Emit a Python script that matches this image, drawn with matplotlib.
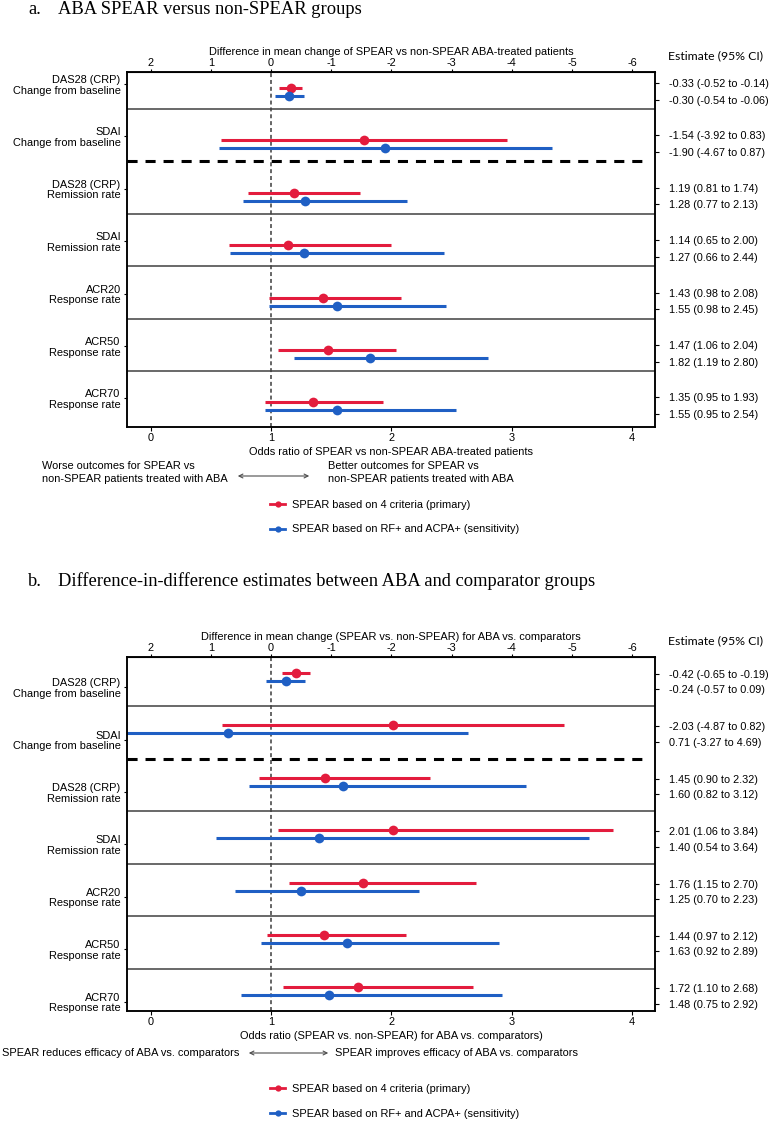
import numpy as np
import matplotlib.pyplot as plt
from matplotlib.lines import Line2D
from matplotlib.patches import FancyArrowPatch

plt.rcParams["font.family"] = ["Liberation Sans", "DejaVu Sans"]
plt.rcParams["axes.unicode_minus"] = False

# %%
# Data
outcomes = [
    "DAS28 (CRP)\nChange from baseline",
    "SDAI\nChange from baseline",
    "DAS28 (CRP)\nRemission rate",
    "SDAI\nRemission rate",
    "ACR20\nResponse rate",
    "ACR50\nResponse rate",
    "ACR70\nResponse rate",
]
is_change = [True, True, False, False, False, False, False]

# a. SPEAR vs non-SPEAR, ABA-treated
a_prim_est = [-0.33, -1.54, 1.19, 1.14, 1.43, 1.47, 1.35]
a_prim_lo = [-0.52, -3.92, 0.81, 0.65, 0.98, 1.06, 0.95]
a_prim_hi = [-0.14, 0.83, 1.74, 2.00, 2.08, 2.04, 1.93]
a_sens_est = [-0.30, -1.90, 1.28, 1.27, 1.55, 1.82, 1.55]
a_sens_lo = [-0.54, -4.67, 0.77, 0.66, 0.98, 1.19, 0.95]
a_sens_hi = [-0.06, 0.87, 2.13, 2.44, 2.45, 2.80, 2.54]

# b. difference-in-difference, ABA vs comparators
b_prim_est = [-0.42, -2.03, 1.45, 2.01, 1.76, 1.44, 1.72]
b_prim_lo = [-0.65, -4.87, 0.90, 1.06, 1.15, 0.97, 1.10]
b_prim_hi = [-0.19, 0.82, 2.32, 3.84, 2.70, 2.12, 2.68]
b_sens_est = [-0.24, 0.71, 1.60, 1.40, 1.25, 1.63, 1.48]
b_sens_lo = [-0.57, -3.27, 0.82, 0.54, 0.70, 0.92, 0.75]
b_sens_hi = [0.09, 4.69, 3.12, 3.64, 2.23, 2.89, 2.92]

or_ticks = [0, 1, 2, 3, 4]
diff_ticks = [2, 1, 0, -1, -2, -3, -4, -5, -6]

labels_series = ["SPEAR based on 4 criteria (primary)",
                 "SPEAR based on RF+ and ACPA+ (sensitivity)"]

RED = "#e31c3d"
BLUE = "#1f5fc4"
FS = 7.9
W, H = 769, 1123


# %%
# Helpers
def diff_to_or(d):
    # mean-change scale on top axis -> odds-ratio scale on bottom axis
    return 1 - np.asarray(d) / 2


def or_to_diff(x):
    return 2 * (1 - np.asarray(x))


def to_plot(vals, i):
    return float(diff_to_or(vals[i])) if is_change[i] else vals[i]


def fx(px):
    return px / W


def fy(py):
    return 1 - py / H


def draw_panel(top_px, bot_px, prim, sens, top_label, bot_label,
               ylim, sep_off, lab_off, est_off):
    ax = fig.add_axes([fx(127), fy(bot_px), fx(655) - fx(127),
                       fy(top_px) - fy(bot_px)])
    rows = np.arange(len(outcomes))
    dy = 0.153
    est_labels = []
    est_pos = []
    for series, off, col in [(prim, 0, RED), (sens, dy, BLUE)]:
        est, lo, hi = series
        for i in rows:
            e = to_plot(est, i)
            a = to_plot(lo, i)
            b = to_plot(hi, i)
            a, b = min(a, b), max(a, b)
            ax.plot([a, b], [i + off, i + off], color=col, lw=2.2,
                    solid_capstyle="butt")
            ax.plot(e, i + off, "o", color=col, ms=7, mec="none")
    for i in rows:
        for series, off in [(prim, est_off[0]), (sens, est_off[1])]:
            est, lo, hi = series
            est_labels.append(f"{est[i]:.2f} ({lo[i]:.2f} to {hi[i]:.2f})")
            est_pos.append(i + off)

    # row separators (dashed one splits change outcomes from rates)
    for i in rows[:-1]:
        if i == 1:
            ax.axhline(i + sep_off, xmin=0, xmax=0.985, color="black",
                       lw=2.2, ls=(0, (3.3, 2.6)))
        else:
            ax.axhline(i + sep_off, color="0.25", lw=1.1)

    ax.axvline(1, color="0.35", lw=1.3, ls=(0, (2.2, 1.6)), zorder=0)

    ax.set_xlim(-0.197, 4.19)
    ax.set_ylim(ylim)
    ax.set_xticks(or_ticks)
    ax.set_yticks(rows + lab_off)
    ax.set_yticklabels(outcomes, fontsize=FS)
    for t in ax.get_yticklabels():
        t.set_linespacing(1.08)
    ax.tick_params(axis="x", labelsize=FS, length=3, pad=1.5)
    ax.tick_params(axis="y", length=2.5, pad=2)
    ax.set_xlabel(bot_label, fontsize=FS, labelpad=3)
    for s in ax.spines.values():
        s.set_linewidth(1.1)

    top = ax.secondary_xaxis("top", functions=(or_to_diff, diff_to_or))
    top.set_xticks(diff_ticks)
    top.tick_params(labelsize=FS, length=2.5, pad=0.3)
    top.set_xlabel(top_label, fontsize=FS, labelpad=2)

    right = ax.twinx()
    right.set_ylim(ylim)
    right.set_yticks(est_pos)
    right.set_yticklabels(est_labels, fontsize=7.8)
    right.tick_params(axis="y", length=3, pad=6.8)
    for s in right.spines.values():
        s.set_linewidth(1.1)

    fig.text(fx(668), fy(top_px - 16), "Estimate (95% CI)", fontsize=8.8,
             family=["Lato", "DejaVu Sans"], va="center", ha="left")
    return ax


# %%
# Figure
fig = plt.figure(figsize=(W / 100, H / 100), dpi=100)

title_font = ["Liberation Serif", "DejaVu Serif"]
fig.text(fx(28), fy(10), "a.", fontsize=13.3, family=title_font, va="center")
fig.text(fx(58), fy(10), "ABA SPEAR versus non-SPEAR groups", fontsize=13.3,
         family=title_font, va="center")
fig.text(fx(28), fy(581), "b.", fontsize=13.3, family=title_font, va="center")
fig.text(fx(58), fy(581),
         "Difference-in-difference estimates between ABA and comparator groups",
         fontsize=13.3, family=title_font, va="center")

draw_panel(72, 427,
           (a_prim_est, a_prim_lo, a_prim_hi),
           (a_sens_est, a_sens_lo, a_sens_hi),
           "Difference in mean change of SPEAR vs non-SPEAR ABA-treated patients",
           "Odds ratio of SPEAR vs non-SPEAR ABA-treated patients",
           (6.47, -0.305), 0.40, -0.076, (-0.095, 0.22))

draw_panel(656.7, 1010.7,
           (b_prim_est, b_prim_lo, b_prim_hi),
           (b_sens_est, b_sens_lo, b_sens_hi),
           "Difference in mean change (SPEAR vs. non-SPEAR) for ABA vs. comparators",
           "Odds ratio (SPEAR vs. non-SPEAR) for ABA vs. comparators)",
           (6.445, -0.31), 0.64, 0.27, (0.02, 0.315))

# direction annotations
fig.text(fx(41.5), fy(472.5), "Worse outcomes for SPEAR vs\nnon-SPEAR patients treated with ABA",
         fontsize=FS, va="center", ha="left", linespacing=1.35)
fig.text(fx(327.5), fy(472.5), "Better outcomes for SPEAR vs\nnon-SPEAR patients treated with ABA",
         fontsize=FS, va="center", ha="left", linespacing=1.35)
fig.add_artist(FancyArrowPatch(
    (fx(235), fy(476)), (fx(312), fy(476)), transform=fig.transFigure,
    arrowstyle="<->", mutation_scale=7, lw=0.8, color="0.3"))

fig.text(fx(1.5), fy(1053), "SPEAR reduces efficacy of ABA vs. comparators",
         fontsize=FS, va="center", ha="left")
fig.text(fx(335), fy(1053), "SPEAR improves efficacy of ABA vs. comparators",
         fontsize=FS, va="center", ha="left")
fig.add_artist(FancyArrowPatch(
    (fx(246), fy(1053)), (fx(331), fy(1053)), transform=fig.transFigure,
    arrowstyle="<->", mutation_scale=7, lw=0.8, color="0.3"))

# legends
handles = [Line2D([], [], color=RED, lw=2, marker="o", ms=4.5, mec="none"),
           Line2D([], [], color=BLUE, lw=2, marker="o", ms=4.5, mec="none")]
for y_top in [503.3, 1088]:
    fig.legend(handles, labels_series, loc="upper left",
               bbox_to_anchor=(fx(270), fy(y_top - 3.7)), frameon=False,
               fontsize=FS, handlelength=1.4, handletextpad=0.6,
               labelspacing=1.35, borderpad=0, borderaxespad=0)

fig.savefig("out.png", dpi=100)
